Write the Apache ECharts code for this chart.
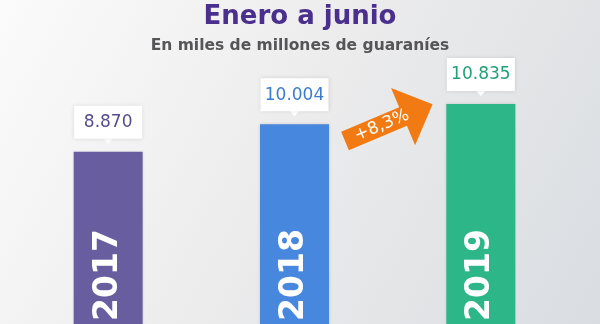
<!DOCTYPE html>
<html>
<head>
<meta charset="utf-8">
<script src="https://cdn.jsdelivr.net/npm/echarts@6/dist/echarts.min.js"></script>
<style>
  html, body { margin: 0; padding: 0; background: #eeeeef; }
  #chart { width: 600px; height: 324px; }
</style>
</head>
<body>
<div id="chart"></div>
<script>
// ---- Data ----
const years = ['2017', '2018', '2019'];
const values = [8870, 10004, 10835];
const barColors = ['#675d9f', '#4887de', '#2db687'];
const labelColors = ['#574c8c', '#3a7ccd', '#23a074'];
const titleText = 'Enero a junio';
const subtitleText = 'En miles de millones de guaraníes';
const growthLabel = '+8,3%';
// visible part of the value axis (bars run off the bottom of the picture)
const yMin = 1770;
const yMax = 10835;

function fmt(v) {
  return String(v).replace(/\B(?=(\d{3})+(?!\d))/g, '.');
}

const chart = echarts.init(document.getElementById('chart'), null, { renderer: 'canvas' });

// Arrow geometry (decoration) in local coordinates
const arrowLen = 95, headStart = 63, bodyHalf = 10, headHalf = 31;
const arrowPts = [
  [0, -bodyHalf], [headStart, -bodyHalf], [headStart, -headHalf],
  [arrowLen, 0], [headStart, headHalf], [headStart, bodyHalf], [0, bodyHalf]
];
const arrowRot = 22.8 * Math.PI / 180;

const option = {
  backgroundColor: {
    type: 'linear', x: 0, y: 0, x2: 1, y2: 1,
    colorStops: [
      { offset: 0, color: '#fbfbfb' },
      { offset: 0.5, color: '#ebebec' },
      { offset: 1, color: '#d9dde1' }
    ]
  },
  title: {
    text: titleText,
    subtext: subtitleText,
    left: 'center',
    top: -1,
    itemGap: 8,
    textStyle: {
      fontFamily: 'DejaVu Sans', fontWeight: 'bold', fontSize: 26, color: '#4a2f8c'
    },
    subtextStyle: {
      fontFamily: 'DejaVu Sans', fontWeight: 'bold', fontSize: 15.5, color: '#555558'
    }
  },
  grid: { left: 15, right: 26, top: 104, bottom: 0 },
  xAxis: {
    type: 'category',
    data: years,
    axisLine: { show: false },
    axisTick: { show: false },
    axisLabel: { show: false },
    splitLine: { show: false }
  },
  yAxis: {
    type: 'value',
    min: yMin,
    max: yMax,
    show: false,
    splitLine: { show: false }
  },
  graphic: [
    {
      type: 'group',
      x: 345, y: 141,
      rotation: arrowRot,
      z: 10,
      children: [
        {
          type: 'polygon',
          shape: { points: arrowPts },
          style: { fill: '#f27a12' }
        },
        {
          type: 'text',
          x: 40, y: 0,
          style: {
            text: growthLabel,
            fill: '#ffffff',
            font: '17px "DejaVu Sans"',
            align: 'center',
            verticalAlign: 'middle'
          }
        }
      ]
    }
  ],
  series: [
    {
      type: 'bar',
      data: values.map((v, i) => ({ value: v, itemStyle: { color: barColors[i] } })),
      barWidth: 69,
      itemStyle: {
        shadowBlur: 3, shadowColor: 'rgba(0,0,0,0.15)'
      },
      label: {
        show: true,
        position: 'insideBottom',
        distance: 3,
        rotate: 90,
        align: 'left',
        verticalAlign: 'middle',
        formatter: p => p.name,
        color: '#ffffff',
        fontFamily: 'DejaVu Sans',
        fontWeight: 'bold',
        fontSize: 33
      },
      silent: true,
      z: 2
    },
    {
      type: 'scatter',
      data: values.map((v, i) => ({
        value: [years[i], v],
        label: { color: labelColors[i] }
      })),
      symbol: 'triangle',
      symbolRotate: 180,
      symbolSize: [11, 6],
      symbolOffset: [0, -11],
      itemStyle: { color: '#ffffff', opacity: 1 },
      label: {
        show: true,
        position: 'top',
        distance: -1,
        formatter: p => fmt(p.value[1]),
        backgroundColor: '#ffffff',
        width: 62,
        height: 20,
        lineHeight: 20,
        padding: [7, 3, 6, 3],
        align: 'center',
        fontFamily: 'DejaVu Sans',
        fontSize: 17,
        shadowBlur: 4,
        shadowColor: 'rgba(0,0,0,0.12)'
      },
      silent: true,
      z: 5
    }
  ]
};

chart.setOption(option);
</script>
</body>
</html>
